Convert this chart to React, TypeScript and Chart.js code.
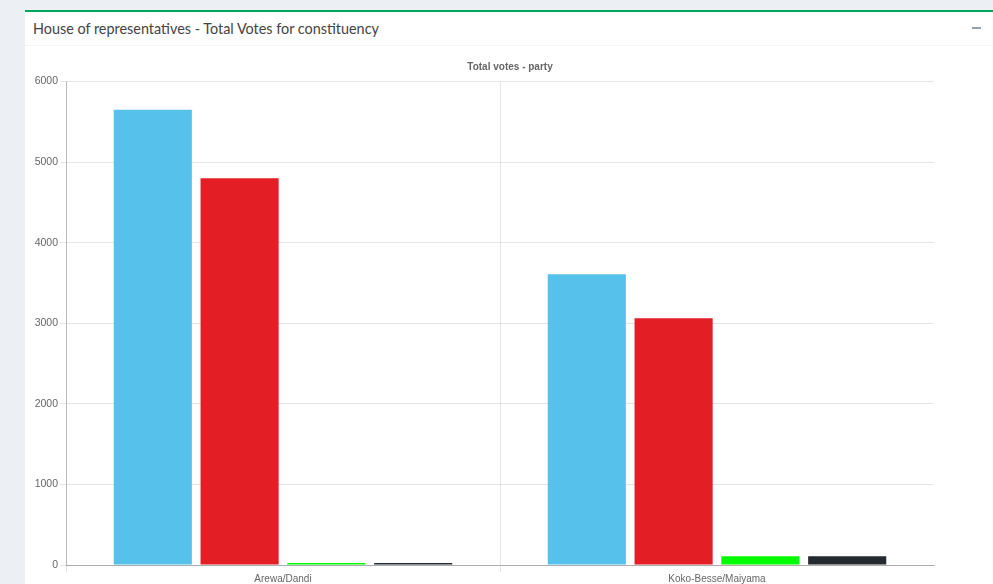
import React, { useEffect, useRef } from "react";
import { Chart, registerables } from "chart.js";

Chart.register(...registerables);

const categories = ["Arewa/Dandi", "Koko-Besse/Maiyama"];
const partyNames = ["Party 1", "Party 2", "Party 3", "Party 4"];
const partyColors = ["#56C2EB", "#E31E25", "#00FF00", "#232A30"];
const votesArewa = [5650, 4800, 25, 25];
const votesKoko = [3607, 3062, 108, 108];
const yTicks = [0, 1000, 2000, 3000, 4000, 5000, 6000];

export default function App() {
  const canvasRef = useRef<HTMLCanvasElement | null>(null);

  useEffect(() => {
    document.body.style.margin = "0";
    const canvas = canvasRef.current;
    if (!canvas) return;
    const datasets = partyNames.map((name, i) => ({
      label: name,
      data: [votesArewa[i], votesKoko[i]],
      backgroundColor: partyColors[i],
      borderWidth: 0,
      yAxisID: "y",
    }));
    const chart = new Chart(canvas, {
      type: "bar",
      data: { labels: categories, datasets },
      options: {
        animation: false,
        responsive: false,
        maintainAspectRatio: false,
        layout: { padding: { left: 0, right: 0, top: 0, bottom: 0 } },
        font: { family: "'Helvetica Neue', Helvetica, Arial, sans-serif" },
        plugins: {
          legend: { display: false },
          tooltip: { enabled: false },
          title: {
            display: true,
            text: "Total votes - party",
            color: "#666",
            font: { size: 10, weight: "bold", family: "'Helvetica Neue', Helvetica, Arial, sans-serif" },
            padding: { top: 11.5, bottom: 8 },
          },
        },
        scales: {
          x: {
            grid: {
              color: (ctx: any) => (ctx.type !== "tick" ? "rgba(0,0,0,0)" : "rgba(0,0,0,0.1)"),
              tickLength: 7,
            },
            border: { color: "rgba(0,0,0,0.25)" },
            ticks: {
              color: "#666",
              padding: 1,
              font: { size: 10, family: "'Helvetica Neue', Helvetica, Arial, sans-serif" },
            },
            afterFit: (scale: any) => {
              scale.height = 30;
            },
          },
          y: {
            position: "left",
            min: yTicks[0],
            max: yTicks[yTicks.length - 1],
            afterBuildTicks: (scale: any) => {
              scale.ticks = yTicks.map((v) => ({ value: v }));
            },
            ticks: {
              color: "#666",
              padding: 2,
              font: { size: 10.5, family: "'Helvetica Neue', Helvetica, Arial, sans-serif" },
              callback: (value: any) => String(value),
            },
            grid: { color: "rgba(0,0,0,0.1)", tickLength: 6 },
            border: { color: "rgba(0,0,0,0.2)" },
            afterFit: (scale: any) => {
              scale.width = 41;
            },
          },
          spacer: {
            type: "linear",
            position: "right",
            display: true,
            grid: { display: false, drawTicks: false },
            border: { display: false },
            ticks: { display: false },
            afterFit: (scale: any) => {
              scale.width = 61;
            },
          },
        },
      } as any,
    });
    return () => chart.destroy();
  }, []);

  return (
    <div
      style={{
        position: "relative",
        width: 993,
        height: 584,
        overflow: "hidden",
        background: "#ecf0f5",
      }}
    >
      <div
        style={{
          position: "absolute",
          left: 25,
          top: 10,
          width: 1000,
          height: 600,
          background: "#fff",
          borderTop: "2px solid #00a65a",
        }}
      >
        <div
          style={{
            height: 33,
            borderBottom: "1px solid #f4f4f4",
            position: "relative",
          }}
        >
          <span
            style={{
              position: "absolute",
              left: 8,
              top: 8,
              fontFamily: "Lato, 'Open Sans', sans-serif",
              fontSize: 14.4,
              color: "#444",
              whiteSpace: "nowrap",
            }}
          >
            House of representatives - Total Votes for constituency
          </span>
          <span
            style={{
              position: "absolute",
              left: 947,
              top: 15,
              width: 9,
              height: 2,
              background: "#97a0b3",
            }}
          />
        </div>
      </div>
      <canvas
        ref={canvasRef}
        width={970}
        height={545}
        style={{ position: "absolute", left: 25, top: 50, width: 970, height: 545 }}
      />
    </div>
  );
}
